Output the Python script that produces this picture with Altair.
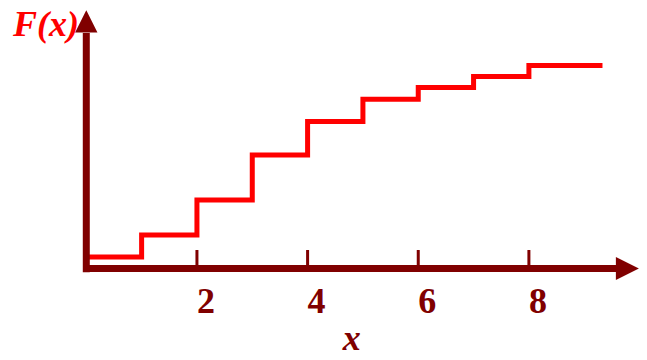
import altair as alt
import pandas as pd

# ---- data ----
step_x = [0, 0, 1, 2, 3, 4, 5, 6, 7, 8, 9.33]
step_f = [0, 0.057, 0.165, 0.337, 0.559, 0.724, 0.833, 0.892, 0.946, 1.0, 1.0]
tick_values = [2, 4, 6, 8]
tick_labels = ["2", "4", "6", "8"]
x_title = "x"
y_title = "F(x)"

MAROON = "#800000"
RED = "#FF0000"
FONT = "Liberation Serif"

W, H = 631, 352
xs = alt.Scale(domain=[-1.415, 9.99], nice=False, zero=False)
ys = alt.Scale(domain=[-0.4507, 1.283], nice=False, zero=False)


def X(field="x"):
    return alt.X(f"{field}:Q", scale=xs, axis=None)


def Y(field="y"):
    return alt.Y(f"{field}:Q", scale=ys, axis=None)


step_df = pd.DataFrame({"x": step_x, "y": step_f, "i": list(range(len(step_x)))})
axis_df = pd.DataFrame({"x": [-0.05, 0.0], "x2": [9.6, 0.0], "y": [0.0, -0.018], "y2": [0.0, 1.16]})
tick_df = pd.DataFrame({"x": tick_values, "y": [0.0] * len(tick_values), "y2": [0.091] * len(tick_values)})
label_df = pd.DataFrame({"x": tick_values, "y": [-0.219] * len(tick_values), "t": tick_labels})
ytitle_df = pd.DataFrame({"x": [-1.325], "y": [1.145], "t": [y_title]})
xtitle_df = pd.DataFrame({"x": [4.80], "y": [-0.401], "t": [x_title]})
arrow_r_df = pd.DataFrame({"x": [9.78], "y": [0.0]})
arrow_u_df = pd.DataFrame({"x": [0.0], "y": [1.217]})

ytitle = alt.Chart(ytitle_df).mark_text(
    align="left", baseline="alphabetic", font=FONT, fontSize=36,
    fontWeight="bold", fontStyle="italic", color=RED
).encode(x=X(), y=Y(), text="t:N")

xtitle = alt.Chart(xtitle_df).mark_text(
    align="center", baseline="alphabetic", font=FONT, fontSize=36,
    fontWeight="bold", fontStyle="italic", color=MAROON
).encode(x=X(), y=Y(), text="t:N")

labels = alt.Chart(label_df).mark_text(
    align="center", baseline="alphabetic", font=FONT, fontSize=36,
    fontWeight="bold", color=MAROON, dx=9
).encode(x=X(), y=Y(), text="t:N")

axes = alt.Chart(axis_df).mark_rule(color=MAROON, strokeWidth=7, strokeCap="butt").encode(
    x=X(), x2="x2:Q", y=Y(), y2="y2:Q"
)

ticks = alt.Chart(tick_df).mark_rule(color=MAROON, strokeWidth=3, strokeCap="butt").encode(
    x=X(), y=Y(), y2="y2:Q"
)

arrow_r = alt.Chart(arrow_r_df).mark_point(
    shape="M-1,-1L1,0L-1,1Z", filled=True, size=529, color=MAROON, opacity=1, strokeWidth=0
).encode(x=X(), y=Y())

arrow_u = alt.Chart(arrow_u_df).mark_point(
    shape="M-1,1L0,-1L1,1Z", filled=True, size=500, color=MAROON, opacity=1, strokeWidth=0
).encode(x=X(), y=Y())

steps = alt.Chart(step_df).mark_line(
    interpolate="step-after", color=RED, strokeWidth=5, strokeCap="butt", strokeJoin="miter"
).encode(x=X(), y=Y(), order="i:Q")

chart = alt.layer(ytitle, xtitle, labels, steps, axes, ticks, arrow_r, arrow_u).properties(
    width=W, height=H, autosize=alt.AutoSizeParams(type="none"), padding=0, background="white"
).configure_view(stroke=None)

chart.save("out.html", embed_options={"renderer": "svg", "actions": False})
